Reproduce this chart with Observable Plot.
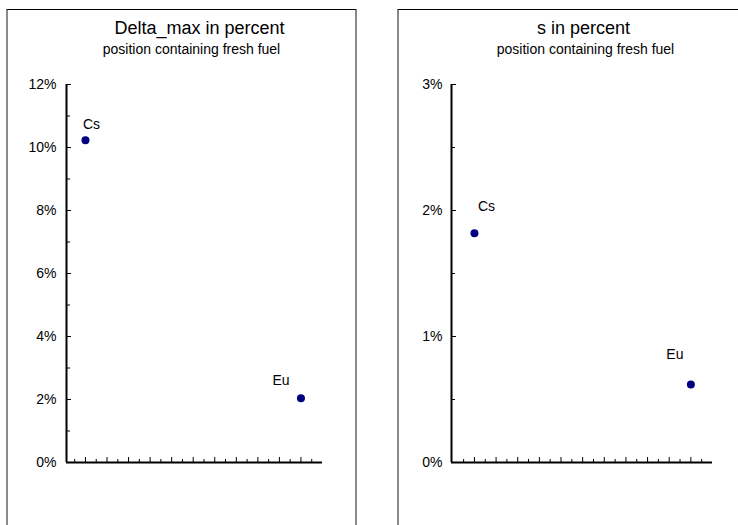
<!DOCTYPE html>
<html>
<head>
<meta charset="utf-8">
<script src="https://cdn.jsdelivr.net/npm/d3@7"></script>
<script src="https://cdn.jsdelivr.net/npm/@observablehq/plot@0.6"></script>
<style>
  html, body { margin: 0; padding: 0; background: #fff; }
  #wrap { position: relative; width: 738px; height: 525px; overflow: hidden; font-family: "Liberation Sans", Arial, sans-serif; }
  .panel { position: absolute; box-sizing: border-box; border-top: 1px solid #000; }
  #p1 { left: 6px; top: 9px; width: 351px; height: 540px; border-left: 2px solid #8a8a8a; border-right: 2px solid #8a8a8a; }
  #p2 { left: 397px; top: 9px; width: 400px; height: 540px; border-left: 2px solid #8a8a8a; }
  .chart { position: absolute; top: 0; }
  #c1 { left: 0; }
  #c2 { left: 380px; }
</style>
</head>
<body>
<div id="wrap">
  <div class="panel" id="p1"></div>
  <div class="panel" id="p2"></div>
  <div class="chart" id="c1"></div>
  <div class="chart" id="c2"></div>
</div>
<script>
// ---- data ----
const isotopes = ["Cs", "Eu"];
const positions = [1, 11];
const deltaMaxPct = [10.23, 2.04];
const sPct = [1.82, 0.62];

const deltaTitle = "Delta_max in percent";
const sTitle = "s in percent";
const subtitle = "position containing fresh fuel";

const deltaMajorTicks = [0, 2, 4, 6, 8, 10, 12];
const deltaMinorTicks = [1, 3, 5, 7, 9, 11];
const sMajorTicks = [0, 1, 2, 3];
const sMinorTicks = [0.5, 1.5, 2.5];
const xMajorTicks = [1, 2, 3, 4, 5, 6, 7, 8, 9, 10, 11];
const xMinorTicks = [0.5, 1.5, 2.5, 3.5, 4.5, 5.5, 6.5, 7.5, 8.5, 9.5, 10.5, 11.5];

const font = "'Liberation Sans', Arial, sans-serif";

function panel({values, yDomain, xDomain, majorY, minorY, title, titleDx, subDx,
                width, marginLeft, marginRight, labelPadding, labelOffsets}) {
  const height = 525, marginTop = 84, marginBottom = 63;
  const innerW = width - marginLeft - marginRight;
  const innerH = height - marginTop - marginBottom;
  const rows = isotopes.map((name, i) => ({name, x: positions[i], y: values[i]}));
  const labelMarks = rows.map((r, i) =>
    Plot.text([r], {x: "x", y: "y", text: "name", dx: labelOffsets[i][0], dy: labelOffsets[i][1],
      lineAnchor: "bottom", textAnchor: "middle", fontSize: 14, fill: "#000"}));
  return Plot.plot({
    width, height, marginLeft, marginRight, marginTop, marginBottom,
    style: {fontFamily: font, fontSize: "14px", background: "none", overflow: "visible", color: "#000"},
    x: {domain: xDomain, axis: null},
    y: {domain: yDomain},
    marks: [
      Plot.text([title], {text: d => d, frameAnchor: "top-left", dx: titleDx, dy: 33 - marginTop,
        lineAnchor: "bottom", textAnchor: "middle", fontSize: 18, fill: "#000"}),
      Plot.text([subtitle], {text: d => d, frameAnchor: "top-left", dx: subDx, dy: 53 - marginTop,
        lineAnchor: "bottom", textAnchor: "middle", fontSize: 14, fill: "#000"}),
      Plot.axisY({ticks: majorY, tickSize: 0, tickPadding: labelPadding, tickFormat: d => d + "%", label: null, fontSize: 14}),
      Plot.tickY(majorY, {y: d => d, insetRight: innerW - 5, stroke: "#000", strokeWidth: 1}),
      Plot.tickY(minorY, {y: d => d, insetRight: innerW - 4, stroke: "#000", strokeWidth: 1}),
      Plot.tickX(xMajorTicks, {x: d => d, insetTop: innerH - 5, stroke: "#000", strokeWidth: 1}),
      Plot.tickX(xMinorTicks, {x: d => d, insetTop: innerH - 3, stroke: "#000", strokeWidth: 1}),
      Plot.ruleX([xDomain[0]], {stroke: "#000", strokeWidth: 2}),
      Plot.ruleY([0], {stroke: "#000", strokeWidth: 2}),
      Plot.dot(rows, {x: "x", y: "y", r: 4, fill: "#000080", stroke: "none"}),
      ...labelMarks
    ]
  });
}

document.getElementById("c1").append(panel({
  values: deltaMaxPct, yDomain: [0, 12], xDomain: [0.12, 12],
  majorY: deltaMajorTicks, minorY: deltaMinorTicks,
  title: deltaTitle, titleDx: 199 - 66, subDx: 191 - 66,
  width: 370, marginLeft: 66, marginRight: 48, labelPadding: 10,
  labelOffsets: [[6, -11], [-20, -13]]
}));

document.getElementById("c2").append(panel({
  values: sPct, yDomain: [0, 3], xDomain: [-0.06, 12],
  majorY: sMajorTicks, minorY: sMinorTicks,
  title: sTitle, titleDx: 583 - 451, subDx: 585 - 451,
  width: 358, marginLeft: 71, marginRight: 26, labelPadding: 9,
  labelOffsets: [[12, -22], [-16, -25]]
}));
</script>
</body>
</html>
